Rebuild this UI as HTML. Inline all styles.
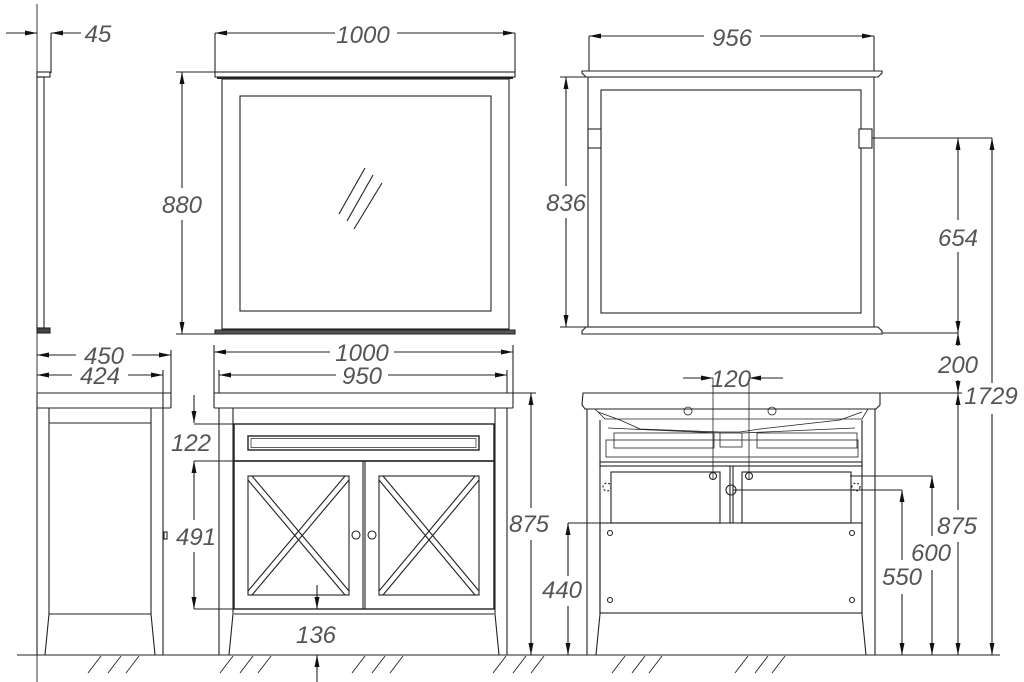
<!DOCTYPE html>
<html><head><meta charset="utf-8"><style>
html,body{margin:0;padding:0;background:#fff}
svg{display:block}
text{font-family:"Liberation Sans",sans-serif;font-style:italic;font-size:24px;fill:#555;text-anchor:middle}
</style></head><body>
<svg width="1024" height="682" viewBox="0 0 1024 682" xmlns="http://www.w3.org/2000/svg">
<defs>
<marker id="a" viewBox="0 0 12 6" refX="12" refY="3" markerWidth="12" markerHeight="6" markerUnits="userSpaceOnUse" orient="auto-start-reverse"><path d="M0,0.5 L12,3 L0,5.5 z" fill="#111"/></marker>
</defs>
<g fill="none" stroke="#222" stroke-width="1.1">
<!-- side mirror -->
<line x1="37" y1="4" x2="37" y2="682" stroke-width="0.9"/>
<line x1="6" y1="33" x2="37" y2="33" marker-end="url(#a)"/>
<line x1="81" y1="33" x2="51" y2="33" marker-end="url(#a)"/>
<line x1="51" y1="33" x2="51" y2="73"/>
<rect x="37" y="72" width="13" height="5"/>
<rect x="37" y="77" width="7" height="251"/>
<rect x="37" y="328" width="13" height="5" fill="#444"/>
<!-- front mirror -->
<line x1="215" y1="33" x2="335" y2="33" marker-start="url(#a)"/>
<line x1="397" y1="33" x2="515" y2="33" marker-end="url(#a)"/>
<line x1="215" y1="33" x2="215" y2="72"/><line x1="515" y1="33" x2="515" y2="72"/>
<rect x="215" y="72" width="300" height="5"/>
<line x1="217" y1="78" x2="513" y2="78" stroke-width="2"/>
<rect x="222" y="79" width="287" height="250"/>
<rect x="240" y="96" width="251" height="215"/>
<path d="M215,330 L515,330 L515,334 L215,334 Z" fill="#555"/>
<line x1="339" y1="214" x2="365" y2="168"/><line x1="347" y1="221" x2="373" y2="175"/><line x1="354" y1="229" x2="382" y2="183"/>
<line x1="176" y1="72" x2="215" y2="72"/><line x1="176" y1="334" x2="215" y2="334"/>
<line x1="182" y1="72" x2="182" y2="188" marker-start="url(#a)"/>
<line x1="182" y1="220" x2="182" y2="334" marker-end="url(#a)"/>
<!-- back mirror -->
<line x1="589" y1="36" x2="704" y2="36" marker-start="url(#a)"/>
<line x1="760" y1="36" x2="874" y2="36" marker-end="url(#a)"/>
<line x1="589" y1="36" x2="589" y2="71"/><line x1="874" y1="36" x2="874" y2="71"/>
<path d="M582,71 L882,71 L882,73 L878,77 L586,77 L582,73 Z"/>
<rect x="588" y="77" width="286" height="250"/>
<rect x="601" y="90" width="260" height="223"/>
<path d="M586,327 L878,327 L882,331 L882,334 L582,334 L582,331 Z"/>
<rect x="588" y="129" width="13" height="19" fill="#fff"/>
<rect x="859" y="129" width="13" height="19" fill="#fff"/>
<line x1="560" y1="77" x2="588" y2="77"/><line x1="560" y1="327" x2="588" y2="327"/>
<line x1="566" y1="77" x2="566" y2="186" marker-start="url(#a)"/>
<line x1="566" y1="218" x2="566" y2="327" marker-end="url(#a)"/>
<line x1="872" y1="138" x2="992" y2="138"/>
<line x1="882" y1="333" x2="958" y2="333"/>
<line x1="958" y1="138" x2="958" y2="220" marker-start="url(#a)"/>
<line x1="958" y1="252" x2="958" y2="333" marker-end="url(#a)"/>
<line x1="958" y1="333" x2="958" y2="346" marker-start="url(#a)"/>
<line x1="958" y1="380" x2="958" y2="393" marker-end="url(#a)"/>
<line x1="958" y1="393" x2="958" y2="510" marker-start="url(#a)"/>
<line x1="958" y1="542" x2="958" y2="655" marker-end="url(#a)"/>
<line x1="992" y1="138" x2="992" y2="383" marker-start="url(#a)"/>
<line x1="992" y1="414" x2="992" y2="655" marker-end="url(#a)"/>
<line x1="880" y1="393" x2="962" y2="393"/>
<!-- ground -->
<line x1="17" y1="655" x2="1000" y2="655"/>
<g stroke-width="0.9">
<line x1="88" y1="673" x2="101" y2="656"/><line x1="108" y1="673" x2="121" y2="656"/><line x1="126" y1="673" x2="139" y2="656"/>
<line x1="220" y1="673" x2="233" y2="656"/><line x1="240" y1="673" x2="253" y2="656"/><line x1="258" y1="673" x2="271" y2="656"/>
<line x1="352" y1="673" x2="365" y2="656"/><line x1="372" y1="673" x2="385" y2="656"/><line x1="390" y1="673" x2="403" y2="656"/>
<line x1="493" y1="673" x2="506" y2="656"/><line x1="513" y1="673" x2="526" y2="656"/><line x1="531" y1="673" x2="544" y2="656"/>
<line x1="612" y1="673" x2="625" y2="656"/><line x1="632" y1="673" x2="645" y2="656"/><line x1="649" y1="673" x2="662" y2="656"/>
<line x1="735" y1="673" x2="748" y2="656"/><line x1="755" y1="673" x2="768" y2="656"/><line x1="772" y1="673" x2="785" y2="656"/>
</g>
<!-- side cabinet -->
<line x1="37" y1="355" x2="76" y2="355" marker-start="url(#a)"/>
<line x1="132" y1="355" x2="171" y2="355" marker-end="url(#a)"/>
<line x1="37" y1="375" x2="72" y2="375" marker-start="url(#a)"/>
<line x1="128" y1="375" x2="163" y2="375" marker-end="url(#a)"/>
<line x1="171" y1="350" x2="171" y2="393"/><line x1="163" y1="370" x2="163" y2="408"/>
<rect x="37" y="393" width="134" height="15" rx="1"/>
<path d="M37,408 L37,655 M49,408 L49,614 L45,655 M151,408 L151,614 L155,655 M163,408 L163,655"/>
<line x1="49" y1="423" x2="151" y2="423"/><line x1="49" y1="614" x2="151" y2="614"/>
<rect x="164" y="532" width="3" height="7"/>
<!-- front cabinet -->
<line x1="214" y1="352" x2="330" y2="352" marker-start="url(#a)"/>
<line x1="394" y1="352" x2="513" y2="352" marker-end="url(#a)"/>
<line x1="219" y1="375" x2="336" y2="375" marker-start="url(#a)"/>
<line x1="388" y1="375" x2="507" y2="375" marker-end="url(#a)"/>
<line x1="214" y1="345" x2="214" y2="393"/><line x1="513" y1="345" x2="513" y2="393"/>
<line x1="219" y1="370" x2="219" y2="393"/><line x1="507" y1="370" x2="507" y2="393"/>
<rect x="214" y="393" width="299" height="15" rx="1"/>
<path d="M219,408 L219,655 M233,408 L233,614 L229,655 M495,408 L495,614 L499,655 M507,408 L507,655"/>
<rect x="234" y="424" width="260" height="37" stroke-width="1.4"/>
<rect x="248" y="436" width="231" height="14" stroke-width="1.4"/>
<rect x="251" y="438.5" width="225" height="9" stroke-width="0.7"/>
<rect x="234" y="461" width="260" height="148" stroke-width="1.4"/>
<line x1="363" y1="461" x2="363" y2="609"/><line x1="365" y1="461" x2="365" y2="609"/>
<line x1="234" y1="614" x2="494" y2="614"/>
<rect x="248" y="476" width="101" height="119"/>
<rect x="379" y="476" width="100" height="119"/>
<path d="M248,480 L345,595 M252,476 L349,591 M349,480 L252,595 M345,476 L248,591"/>
<path d="M379,480 L475,595 M383,476 L479,591 M479,480 L383,595 M475,476 L379,591"/>
<circle cx="356" cy="535" r="4"/><circle cx="372" cy="535" r="4"/>
<line x1="194" y1="395" x2="194" y2="423" marker-end="url(#a)"/>
<line x1="194" y1="424" x2="233" y2="424"/>
<line x1="194" y1="461" x2="233" y2="461"/><line x1="194" y1="609" x2="233" y2="609"/>
<line x1="194" y1="461" x2="194" y2="520" marker-start="url(#a)"/>
<line x1="194" y1="552" x2="194" y2="609" marker-end="url(#a)"/>
<line x1="317" y1="585" x2="317" y2="609" marker-end="url(#a)"/>
<line x1="317" y1="682" x2="317" y2="655" marker-end="url(#a)"/>
<line x1="513" y1="393" x2="536" y2="393"/><line x1="507" y1="655" x2="536" y2="655"/>
<line x1="531" y1="393" x2="531" y2="508" marker-start="url(#a)"/>
<line x1="531" y1="540" x2="531" y2="655" marker-end="url(#a)"/>
<!-- back cabinet -->
<line x1="683" y1="378" x2="713" y2="378" marker-end="url(#a)"/>
<line x1="783" y1="378" x2="749" y2="378" marker-end="url(#a)"/>
<line x1="713" y1="378" x2="713" y2="480" stroke-width="0.8"/><line x1="749" y1="378" x2="749" y2="480" stroke-width="0.8"/>
<path d="M583,393 L880,393 L880,405 L876,409 L585,409 L582,405 Z"/>
<path d="M587,409 L587,655 M600,420 L600,614 L596,655 M862,420 L862,614 L866,655 M875,409 L875,655"/>
<path d="M595,409 L605,419 L862,419 L868,409" stroke-width="0.8"/>
<path d="M598,412 L620,420 L640,429 L720,432 L740,432 L760,429 L840,420 L862,412" stroke-width="0.8"/>
<path d="M608,428 L720,433 M742,433 L855,428" stroke-width="0.8"/>
<rect x="614" y="433" width="100" height="15" stroke-width="0.8"/>
<rect x="757" y="433" width="100" height="15" stroke-width="0.8"/>
<rect x="720" y="433" width="22" height="14" stroke-width="0.8"/>
<rect x="606" y="440" width="252" height="17" stroke-width="0.8"/>
<circle cx="688" cy="411" r="4" stroke-width="0.8"/><circle cx="772" cy="411" r="4" stroke-width="0.8"/>
<rect x="600" y="462" width="262" height="4"/>
<rect x="611" y="472" width="109" height="51"/>
<rect x="742" y="472" width="109" height="51"/>
<line x1="730" y1="466" x2="730" y2="523"/><line x1="733" y1="466" x2="733" y2="523"/>
<circle cx="713" cy="476" r="3.5"/><circle cx="749" cy="476" r="3.5"/><circle cx="731" cy="490" r="5"/>
<circle cx="607" cy="487" r="4" stroke-dasharray="2 2"/><circle cx="856" cy="487" r="4" stroke-dasharray="2 2"/>
<rect x="600" y="523" width="262" height="90"/>
<circle cx="610" cy="533" r="2.5"/><circle cx="852" cy="533" r="2.5"/><circle cx="610" cy="600" r="2.5"/><circle cx="852" cy="600" r="2.5"/>
<line x1="568" y1="523" x2="600" y2="523"/>
<line x1="568" y1="523" x2="568" y2="576" marker-start="url(#a)"/>
<line x1="568" y1="606" x2="568" y2="655" marker-end="url(#a)"/>
<line x1="733" y1="490" x2="902" y2="490"/><line x1="850" y1="476" x2="932" y2="476"/>
<line x1="902" y1="490" x2="902" y2="560" marker-start="url(#a)"/>
<line x1="902" y1="594" x2="902" y2="655" marker-end="url(#a)"/>
<line x1="932" y1="476" x2="932" y2="536" marker-start="url(#a)"/>
<line x1="932" y1="570" x2="932" y2="655" marker-end="url(#a)"/>
<line x1="875" y1="655" x2="992" y2="655"/>
</g>
<text x="98" y="42">45</text>
<text x="363" y="43">1000</text>
<text x="182" y="213">880</text>
<text x="732" y="46">956</text>
<text x="566" y="211">836</text>
<text x="958" y="246">654</text>
<text x="958" y="373">200</text>
<text x="991" y="404">1729</text>
<text x="957" y="534">875</text>
<text x="104" y="364">450</text>
<text x="100" y="384">424</text>
<text x="362" y="361">1000</text>
<text x="362" y="384">950</text>
<text x="191" y="451">122</text>
<text x="196" y="545">491</text>
<text x="316" y="643">136</text>
<text x="529" y="532">875</text>
<text x="731" y="387">120</text>
<text x="562" y="598">440</text>
<text x="902" y="585">550</text>
<text x="931" y="561">600</text>
</svg>
</body></html>
